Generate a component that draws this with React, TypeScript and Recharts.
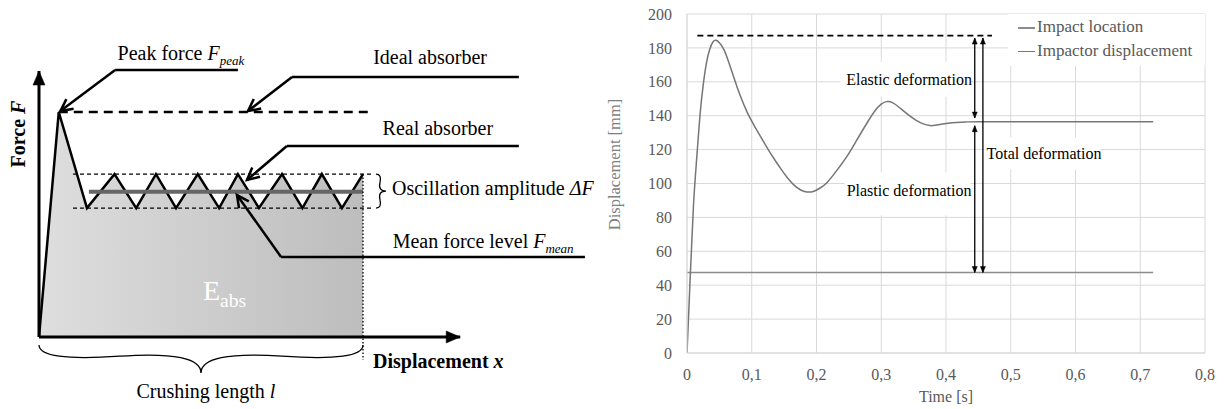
import React from "react";
import {
  ComposedChart,
  LineChart,
  Area,
  Line,
  XAxis,
  YAxis,
  CartesianGrid,
  ReferenceLine,
  ReferenceDot,
  Legend,
} from "recharts";

const SERIF = "Liberation Serif, DejaVu Serif, serif";

// ---- left panel: idealised force / displacement curve
// displacement in crushing lengths l, force in peak forces F_peak
const crushDisp = [0, 0.061, 0.148, 0.233, 0.3, 0.361, 0.423, 0.49, 0.556, 0.614, 0.679, 0.75, 0.813, 0.873, 0.935, 1.0];
const crushForce = [0, 1, 0.573, 0.724, 0.573, 0.724, 0.573, 0.724, 0.573, 0.724, 0.573, 0.724, 0.573, 0.724, 0.573, 0.724];
const peakForce = 1;
const meanForce = 0.646;
const bandTop = 0.724;
const bandBottom = 0.573;

// ---- right panel: measured displacement over time
const timeTicks = [0, 0.1, 0.2, 0.3, 0.4, 0.5, 0.6, 0.7, 0.8];
const dispTicks = [0, 20, 40, 60, 80, 100, 120, 140, 160, 180, 200];
const impactT = [0, 0.72];
const impactV = [47.5, 47.5];
const curveT = [0, 0.005, 0.01, 0.015, 0.02, 0.025, 0.03, 0.035, 0.04, 0.045, 0.05, 0.057, 0.065, 0.072, 0.082, 0.093, 0.104, 0.115, 0.125, 0.135, 0.145, 0.155, 0.165, 0.175, 0.185, 0.195, 0.205, 0.216, 0.23, 0.247, 0.262, 0.278, 0.29, 0.3, 0.308, 0.318, 0.331, 0.343, 0.354, 0.365, 0.375, 0.383, 0.395, 0.41, 0.43, 0.45, 0.55, 0.65, 0.72];
const curveV = [0, 45, 87, 115, 140, 158, 171, 179, 183.5, 184.5, 183, 179, 171, 163, 152, 142, 134, 126.8, 120.3, 114.3, 108.6, 103.4, 99.2, 96.3, 95, 95.3, 97.2, 100.5, 107, 116, 125.5, 135.7, 142.8, 146.8, 148.3, 147.6, 143.9, 140.2, 137.3, 135.2, 134.2, 134.3, 135.1, 135.9, 136.3, 136.5, 136.5, 136.5, 136.5];
const maxDisp = 187.2;

const schematic = crushDisp.map((d, i) => ({ d, f: crushForce[i] }));
const impactData = impactT.map((t, i) => ({ t, v: impactV[i] }));
const curveData = curveT.map((t, i) => ({ t, v: curveV[i] }));

const head = (x1: number, y1: number, x2: number, y2: number, len: number, half: number) => {
  const a = Math.atan2(y2 - y1, x2 - x1);
  const c = Math.cos(a);
  const s = Math.sin(a);
  const bx = x2 - len * c;
  const by = y2 - len * s;
  return `M${bx + half * s},${by - half * c} L${x2},${y2} L${bx - half * s},${by + half * c}`;
};

type ArrowOpts = { w: number; end?: boolean; start?: boolean; open?: boolean; len?: number; half?: number; dash?: string; color?: string };

const arrowLine = (o: ArrowOpts) => (p: any) => {
  const { x1, y1, x2, y2 } = p;
  const color = o.color || "#000";
  const len = o.len || 10;
  const half = o.half || 5;
  return (
    <g>
      <line x1={x1} y1={y1} x2={x2} y2={y2} stroke={color} strokeWidth={o.w} strokeDasharray={o.dash} />
      {o.end && (
        <path d={head(x1, y1, x2, y2, len, half) + (o.open ? "" : " Z")} fill={o.open ? "none" : color} stroke={color} strokeWidth={o.open ? o.w : 0.5} />
      )}
      {o.start && (
        <path d={head(x2, y2, x1, y1, len, half) + (o.open ? "" : " Z")} fill={o.open ? "none" : color} stroke={color} strokeWidth={o.open ? o.w : 0.5} />
      )}
    </g>
  );
};

// curly brace between the two segment ends, bulging by w pixels
const braceShape = (w: number, q = 0.6) => (p: any) => {
  const { x1, y1, x2, y2 } = p;
  let dx = x1 - x2;
  let dy = y1 - y2;
  const len = Math.sqrt(dx * dx + dy * dy);
  dx /= len;
  dy /= len;
  const qx1 = x1 + q * w * dy, qy1 = y1 - q * w * dx;
  const qx2 = x1 - 0.25 * len * dx + (1 - q) * w * dy, qy2 = y1 - 0.25 * len * dy - (1 - q) * w * dx;
  const tx = x1 - 0.5 * len * dx + w * dy, ty = y1 - 0.5 * len * dy - w * dx;
  const qx3 = x2 + q * w * dy, qy3 = y2 - q * w * dx;
  const qx4 = x1 - 0.75 * len * dx + (1 - q) * w * dy, qy4 = y1 - 0.75 * len * dy - (1 - q) * w * dx;
  return (
    <path
      d={`M${x1},${y1} Q${qx1},${qy1} ${qx2},${qy2} T${tx},${ty} M${x2},${y2} Q${qx3},${qy3} ${qx4},${qy4} T${tx},${ty}`}
      fill="none"
      stroke="#000"
      strokeWidth={1.3}
    />
  );
};

type Part = [string, string];
const textShape = (parts: Part[], anchor: string, size: number, opts: any = {}) => (p: any) => {
  let shift = 0;
  return (
    <g>
      {opts.box && <rect x={p.cx + opts.box[0]} y={p.cy + opts.box[1]} width={opts.box[2]} height={opts.box[3]} fill="#fff" />}
      <text
        x={p.cx}
        y={p.cy}
        textAnchor={anchor}
        fontSize={size}
        style={{ fontFamily: SERIF }}
        fill={opts.fill || "#000"}
        fontWeight={opts.bold ? "bold" : "normal"}
        transform={opts.rotate ? `rotate(${opts.rotate} ${p.cx} ${p.cy})` : undefined}
      >
        {parts.map(([txt, kind], i) => {
          const sub = kind.includes("sub");
          const dy = sub ? size * 0.25 - shift : -shift;
          shift = sub ? size * 0.25 : 0;
          return (
            <tspan
              key={i}
              dy={dy || undefined}
              fontStyle={kind.includes("i") ? "italic" : "normal"}
              fontSize={sub ? size * (opts.subScale || 0.65) : size}
            >
              {txt}
            </tspan>
          );
        })}
      </text>
    </g>
  );
};

const leftNotes: { d: number; f: number; parts: Part[]; anchor: string; size: number; opts?: any }[] = [
  { d: 0.438, f: 1.231, parts: [["Peak force ", ""], ["F", "i"], ["peak", "i sub"]], anchor: "middle", size: 20 },
  { d: 1.207, f: 1.213, parts: [["Ideal absorber", ""]], anchor: "middle", size: 20 },
  { d: 1.231, f: 0.898, parts: [["Real absorber", ""]], anchor: "middle", size: 20 },
  { d: 1.0895, f: 0.631, parts: [["Oscillation amplitude ", ""], ["ΔF", "i"]], anchor: "start", size: 20 },
  { d: 1.0917, f: 0.394, parts: [["Mean force level ", ""], ["F", "i"], ["mean", "i sub"]], anchor: "start", size: 20 },
  { d: 1.031, f: -0.139, parts: [["Displacement ", ""], ["x", "i"]], anchor: "start", size: 20, opts: { bold: true } },
  { d: 0.515, f: -0.272, parts: [["Crushing length ", ""], ["l", "i"]], anchor: "middle", size: 20 },
  { d: -0.043, f: 0.902, parts: [["Force ", ""], ["F", "i"]], anchor: "middle", size: 20, opts: { bold: true, rotate: -90 } },
  { d: 0.506, f: 0.164, parts: [["E", ""], ["abs", "sub"]], anchor: "start", size: 28, opts: { fill: "#fff", subScale: 0.7 } },
];

// leader lines: [from, corner, arrow tip]
const leaders = [
  [{ d: 0.614, f: 1.187 }, { d: 0.235, f: 1.187 }, { d: 0.066, f: 1.004 }],
  [{ d: 1.481, f: 1.156 }, { d: 0.781, f: 1.156 }, { d: 0.645, f: 1.004 }],
  [{ d: 1.481, f: 0.849 }, { d: 0.765, f: 0.849 }, { d: 0.642, f: 0.698 }],
  [{ d: 1.685, f: 0.356 }, { d: 0.747, f: 0.356 }, { d: 0.611, f: 0.631 }],
];

const rightNotes = [
  { t: 0.44, v: 158, text: "Elastic deformation", anchor: "end", box: [-132, -23.5, 131, 35] },
  { t: 0.4394, v: 92.4, text: "Plastic deformation", anchor: "end", box: [-127, -24, 126, 43] },
  { t: 0.4626, v: 114.2, text: "Total deformation", anchor: "start", box: [-2, -22, 116, 32] },
];

function LeftPanel() {
  return (
    <ComposedChart width={620} height={409} margin={{ top: 0, right: 0, bottom: 0, left: 0 }}>
      <defs>
        <linearGradient id="eabs" x1="0" y1="0" x2="1" y2="0">
          <stop offset="0%" stopColor="#dedede" />
          <stop offset="100%" stopColor="#bdbdbd" />
        </linearGradient>
      </defs>
      <XAxis type="number" dataKey="d" domain={[-0.12037, 1.79321]} allowDataOverflow hide />
      <YAxis type="number" domain={[-0.32, 1.49778]} allowDataOverflow hide />
      <Area
        data={schematic}
        dataKey="f"
        type="linear"
        baseValue={0}
        fill="url(#eabs)"
        fillOpacity={1}
        stroke="#000"
        strokeWidth={2.5}
        dot={false}
        activeDot={false}
        isAnimationActive={false}
      />
      <ReferenceLine ifOverflow="visible" segment={[{ x: 0.061, y: peakForce }, { x: 1.015, y: peakForce }]} shape={arrowLine({ w: 2.6, dash: "9 6" })} />
      <ReferenceLine ifOverflow="visible" segment={[{ x: 0.105, y: bandTop }, { x: 1.03, y: bandTop }]} shape={arrowLine({ w: 1.3, dash: "4 3" })} />
      <ReferenceLine ifOverflow="visible" segment={[{ x: 0.105, y: bandBottom }, { x: 1.03, y: bandBottom }]} shape={arrowLine({ w: 1.3, dash: "4 3" })} />
      <ReferenceLine ifOverflow="visible" segment={[{ x: 1.04, y: bandBottom }, { x: 1.04, y: bandTop }]} shape={braceShape(10)} />
      <ReferenceLine ifOverflow="visible" segment={[{ x: 0.154, y: meanForce }, { x: 1.0, y: meanForce }]} shape={arrowLine({ w: 4, color: "#666" })} />
      <ReferenceLine ifOverflow="visible" segment={[{ x: 1.0, y: bandTop }, { x: 1.0, y: -0.102 }]} shape={arrowLine({ w: 1.3, dash: "1.5 2" })} />
      <ReferenceLine ifOverflow="visible" segment={[{ x: 0, y: -0.0356 }, { x: 1.0, y: -0.0356 }]} shape={braceShape(28)} />
      <ReferenceLine ifOverflow="visible" segment={[{ x: 0, y: 0 }, { x: 0, y: 1.182 }]} shape={arrowLine({ w: 3, end: true, len: 14, half: 6 })} />
      <ReferenceLine ifOverflow="visible" segment={[{ x: 0, y: 0 }, { x: 1.3, y: 0 }]} shape={arrowLine({ w: 3, end: true, len: 14, half: 6 })} />
      {leaders.map((l, i) => (
        <ReferenceLine key={`a${i}`} ifOverflow="visible" segment={[{ x: l[0].d, y: l[0].f }, { x: l[1].d, y: l[1].f }]} shape={arrowLine({ w: 2.5 })} />
      ))}
      {leaders.map((l, i) => (
        <ReferenceLine key={`b${i}`} ifOverflow="visible" segment={[{ x: l[1].d, y: l[1].f }, { x: l[2].d, y: l[2].f }]} shape={arrowLine({ w: 2.5, end: true, open: true, len: 12, half: 6 })} />
      ))}
      {leftNotes.map((n, i) => (
        <ReferenceDot key={`n${i}`} ifOverflow="visible" x={n.d} y={n.f} r={0} shape={textShape(n.parts, n.anchor, n.size, n.opts)} />
      ))}
    </ComposedChart>
  );
}

const comma = (v: number) => String(v).replace(".", ",");

function LegendBox(props: any) {
  const items = props.payload || [];
  return (
    <div style={{ background: "#fff", padding: "1px 0 4px 10px", fontFamily: SERIF, fontSize: 17, color: "#595959" }}>
      {items.map((it: any) => (
        <div key={it.value} style={{ height: 23.5, lineHeight: "23.5px", whiteSpace: "nowrap" }}>
          <span style={{ display: "inline-block", width: 17, height: 1.5, background: it.color, verticalAlign: "middle", marginRight: 2 }} />
          {it.value}
        </div>
      ))}
    </div>
  );
}

function RightPanel() {
  const tickStyle = { fill: "#595959", fontSize: 16, style: { fontFamily: SERIF } };
  return (
    <LineChart width={626} height={409} margin={{ top: 14, right: 19, bottom: 6, left: 29 }} style={{ fontFamily: SERIF }}>
      <CartesianGrid stroke="#d9d9d9" />
      <XAxis
        type="number"
        dataKey="t"
        domain={[0, 0.8]}
        ticks={timeTicks}
        tickFormatter={comma}
        allowDataOverflow
        height={50}
        tickLine={false}
        tickMargin={10}
        axisLine={{ stroke: "#d9d9d9" }}
        tick={tickStyle}
        label={{ value: "Time [s]", position: "insideBottom", offset: 1, fill: "#595959", fontSize: 16, style: { fontFamily: SERIF } }}
      />
      <YAxis
        type="number"
        domain={[0, 200]}
        ticks={dispTicks}
        allowDataOverflow
        width={60}
        tickLine={false}
        tickMargin={9}
        axisLine={{ stroke: "#d9d9d9" }}
        tick={tickStyle}
        label={() => (
          <text x={16} y={164.5} transform="rotate(-90 16 164.5)" textAnchor="middle" dominantBaseline="central" fill="#7f7f7f" fontSize={16.5} style={{ fontFamily: SERIF }}>
            Displacement [mm]
          </text>
        )}
      />
      <Line data={impactData} dataKey="v" name="Impact location" type="linear" stroke="#8c8c8c" strokeWidth={1.5} dot={false} activeDot={false} isAnimationActive={false} />
      <Line data={curveData} dataKey="v" name="Impactor displacement" type="natural" stroke="#767676" strokeWidth={1.5} dot={false} activeDot={false} isAnimationActive={false} />
      <ReferenceLine ifOverflow="visible" segment={[{ x: 0.016, y: maxDisp }, { x: 0.471, y: maxDisp }]} shape={arrowLine({ w: 1.8, dash: "6 4" })} />
      <ReferenceLine ifOverflow="visible" segment={[{ x: 0.4444, y: 185.8 }, { x: 0.4444, y: 138.6 }]} shape={arrowLine({ w: 1.3, end: true, start: true, len: 6, half: 2.5 })} />
      <ReferenceLine ifOverflow="visible" segment={[{ x: 0.4444, y: 134.1 }, { x: 0.4444, y: impactV[0] }]} shape={arrowLine({ w: 1.3, end: true, start: true, len: 6, half: 2.5 })} />
      <ReferenceLine ifOverflow="visible" segment={[{ x: 0.457, y: 185.8 }, { x: 0.457, y: impactV[0] }]} shape={arrowLine({ w: 1.3, end: true, start: true, len: 6, half: 2.5 })} />
      {rightNotes.map((n, i) => (
        <ReferenceDot key={i} ifOverflow="visible" x={n.t} y={n.v} r={0} shape={textShape([[n.text, ""]], n.anchor, 16, { box: n.box })} />
      ))}
      <Legend
        layout="vertical"
        align="center"
        verticalAlign="middle"
        content={LegendBox}
        wrapperStyle={{ left: 410, top: 14, width: 197, right: "auto", bottom: "auto", margin: 0 }}
      />
    </LineChart>
  );
}

export default function App() {
  return (
    <div style={{ position: "absolute", left: 0, top: 0, width: 1224, height: 409, background: "#fff", fontFamily: SERIF }}>
      <div style={{ position: "absolute", left: 0, top: 0 }}>
        <LeftPanel />
      </div>
      <div style={{ position: "absolute", left: 598, top: 0 }}>
        <RightPanel />
      </div>
    </div>
  );
}
